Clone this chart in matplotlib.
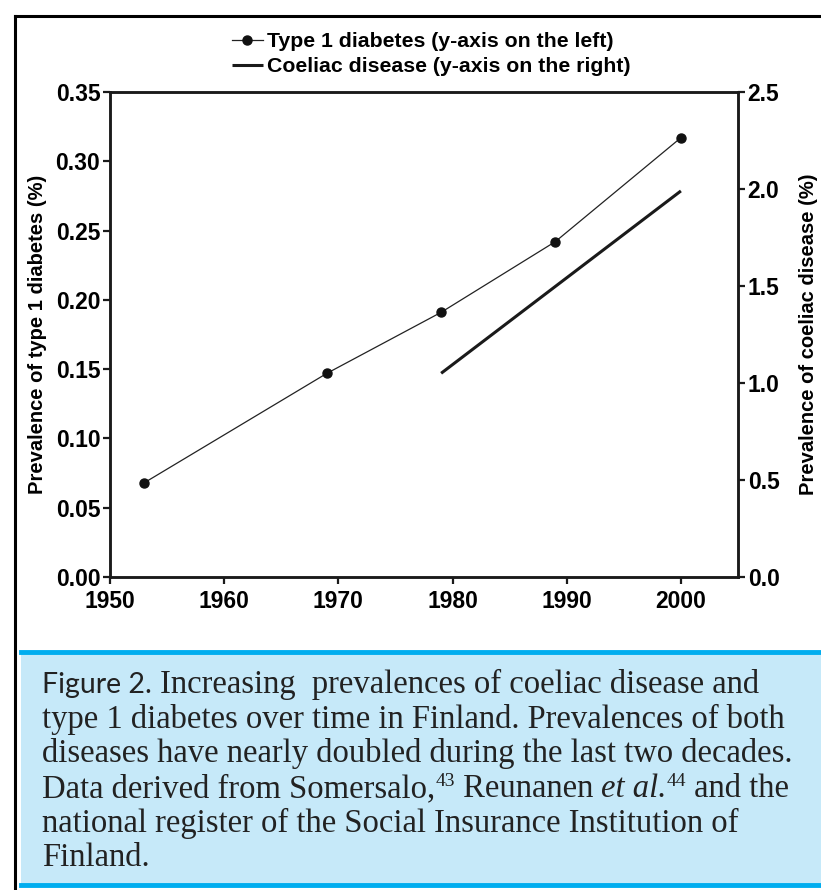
import matplotlib
matplotlib.use("Agg")
import matplotlib.pyplot as plt
from matplotlib.lines import Line2D
from matplotlib.patches import Rectangle

# ---- data ----
diabetes_years = [1953, 1969, 1979, 1989, 2000]
diabetes_prev = [0.068, 0.147, 0.191, 0.242, 0.317]
coeliac_years = [1979, 2000]
coeliac_prev = [1.05, 1.99]
x_ticks = [1950, 1960, 1970, 1980, 1990, 2000]
left_ticks = [0.00, 0.05, 0.10, 0.15, 0.20, 0.25, 0.30, 0.35]
right_ticks = [0.0, 0.5, 1.0, 1.5, 2.0, 2.5]
legend_labels = ["Type 1 diabetes (y-axis on the left)",
                 "Coeliac disease (y-axis on the right)"]
left_label = "Prevalence of type 1 diabetes (%)"
right_label = "Prevalence of coeliac disease (%)"
caption_lines = [
    [("Figure 2.", "sans"), (" Increasing  prevalences of coeliac disease and", "serif")],
    [("type 1 diabetes over time in Finland. Prevalences of both", "serif")],
    [("diseases have nearly doubled during the last two decades.", "serif")],
    [("Data derived from Somersalo,", "serif"), ("43", "sup"), (" Reunanen ", "serif"),
     ("et al.", "italic"), ("44", "sup"), (" and the", "serif")],
    [("national register of the Social Insurance Institution of", "serif")],
    [("Finland.", "serif")],
]

W, H = 821, 890
fig = plt.figure(figsize=(W / 100, H / 100), dpi=100)
fig.patch.set_facecolor("white")

def fx(px):
    return px / W

def fy(py):
    return 1 - py / H

# outer frame (left and top lines)
fig.add_artist(Line2D([fx(15), fx(15)], [fy(16), 0], color="black", lw=2.2,
                      transform=fig.transFigure))
fig.add_artist(Line2D([fx(15), 1], [fy(16), fy(16)], color="black", lw=2.2,
                      transform=fig.transFigure))

# caption box
fig.add_artist(Rectangle((fx(21), fy(886)), fx(W) - fx(21), fy(652) - fy(886),
                         transform=fig.transFigure, facecolor="#c6e9f9",
                         edgecolor="none"))
for yy in (652, 885):
    fig.add_artist(Line2D([fx(21), 1], [fy(yy), fy(yy)], color="#00adef", lw=3.5,
                          transform=fig.transFigure))

# chart
ax = fig.add_axes([fx(110), fy(577), fx(738) - fx(110), fy(92) - fy(577)])
ax2 = ax.twinx()
tick_font = dict(family="Liberation Sans", weight="bold", size=16.5)

l1, = ax.plot(diabetes_years, diabetes_prev, color="#222222", lw=0.9,
              marker="o", markersize=6.5, markerfacecolor="#111111",
              markeredgecolor="#111111")
l2, = ax2.plot(coeliac_years, coeliac_prev, color="#1a1a1a", lw=2.2,
               solid_capstyle="butt")

ax.set_xlim(1950, 2005)
ax.set_ylim(0, 0.35)
ax2.set_ylim(0, 2.5)
ax.set_xticks(x_ticks)
ax.set_yticks(left_ticks)
ax2.set_yticks(right_ticks)
ax.set_xticklabels([str(v) for v in x_ticks], fontdict=tick_font)
ax.set_yticklabels([f"{v:.2f}" for v in left_ticks], fontdict=tick_font)
ax2.set_yticklabels([f"{v:.1f}" for v in right_ticks], fontdict=tick_font)
for a in (ax, ax2):
    for s in a.spines.values():
        s.set_linewidth(1.8)
        s.set_color("#1a1a1a")
    a.tick_params(direction="out", length=5, width=1.6, color="#1a1a1a",
                  pad=2)
ax.tick_params(axis="x", pad=4)

ax.set_ylabel(left_label, family="Liberation Sans", weight="bold", size=14.5,
              labelpad=6)
ax2.set_ylabel(right_label, family="Liberation Sans", weight="bold", size=14.5,
               labelpad=14)

fig.legend([l1, l2], legend_labels, loc="upper left",
           bbox_to_anchor=(fx(232), fy(32)), frameon=False,
           prop=dict(family="Liberation Sans", weight="bold", size=15.3),
           handlelength=1.45, handletextpad=0.2, labelspacing=0.28,
           borderaxespad=0, borderpad=0)

# caption
fig.canvas.draw()
renderer = fig.canvas.get_renderer()
styles = {
    "sans": dict(family="Lato", size=20.5, color="#222222"),
    "serif": dict(family="Liberation Serif", size=23.5, color="#222222"),
    "italic": dict(family="Liberation Serif", size=23.5, style="italic", color="#222222"),
    "sup": dict(family="Liberation Serif", size=14, color="#222222"),
}
line_y = [693, 728, 762, 797, 832, 866]
for line, yb in zip(caption_lines, line_y):
    x = 42
    for txt, st in line:
        y = yb - 11 if st == "sup" else yb
        t = fig.text(fx(x), fy(y), txt, va="baseline", ha="left", **styles[st])
        bb = t.get_window_extent(renderer)
        x += bb.width
fig.savefig("out.png", dpi=100)
